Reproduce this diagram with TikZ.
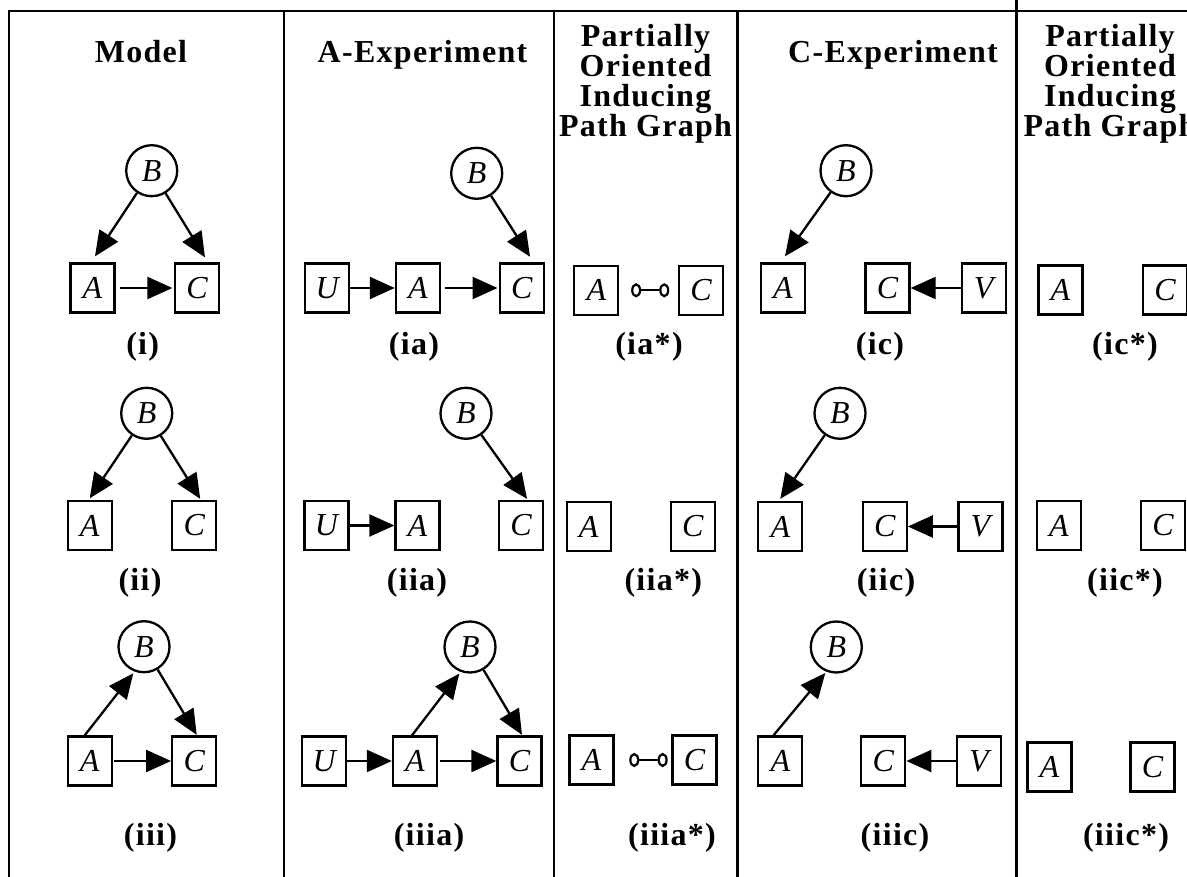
\documentclass[tikz,border=0pt]{standalone}
\usepackage{fontspec}
\setmainfont{Liberation Serif}
\newfontfamily\hdfont{Liberation Serif}[LetterSpace=4]
\usetikzlibrary{arrows.meta}
\tikzset{
  grid/.style={line width=2.6pt},
  box/.style={draw, line width=2.3pt, minimum width=44pt, minimum height=49pt, inner sep=0pt, font=\fontsize{32}{32}\selectfont\itshape},
  circ/.style={circle, draw, line width=2.3pt, minimum size=51pt, inner sep=0pt, font=\fontsize{32}{32}\selectfont\itshape},
  hd/.style={font=\hdfont\bfseries\fontsize{32}{30}\selectfont, align=center, anchor=base, inner sep=0pt},
  lab/.style={font=\hdfont\bfseries\fontsize{32}{30}\selectfont, anchor=base, inner sep=0pt},
  arr/.style={line width=2.3pt, -{Triangle[length=25pt,width=22pt]}},
  oo/.style={line width=2.2pt, {Ellipse[open,length=10pt,width=14pt]}-{Ellipse[open,length=10pt,width=14pt]}},
}
\begin{document}
\begin{tikzpicture}[x=1pt,y=-1pt]
\useasboundingbox (0,0) rectangle (1187,877);
% table frame
\draw[grid, line join=miter] (9,877) -- (9,11) -- (1195,11);
\draw[grid] (284,11) -- (284,877);
\draw[grid] (554,11) -- (554,877);
\draw[grid] (737.5,11) -- (737.5,877);
\draw[grid] (1016.5,0) -- (1016.5,877);
% headings
\node[hd] (h1) at (141,63) {Model};
\node[hd] (h2) at (422.5,63) {A-Experiment};
\node[hd] (h3) at (645.5,137) {Partially\\Oriented\\Inducing\\Path Graph};
\node[hd] (h4) at (893,63) {C-Experiment};
\node[hd] (h5) at (1110,137) {Partially\\Oriented\\Inducing\\Path Graph};
% ---------- Model ----------
\node[circ] (mB1) at (151.7,170.7) {B};
\node[box] (mA1) at (92.5,288) {A};
\node[box] (mC1) at (197,288) {C};
\draw[arr] (mB1) -- ([xshift=2.5pt,yshift=6pt]mA1.north);
\draw[arr] (mB1) -- ([xshift=8pt,yshift=5pt]mC1.north);
\draw[arr, shorten <=4pt, shorten >=1.5pt] (mA1) -- (mC1);
\node[circ] (mB2) at (146.7,413.3) {B};
\node[box] (mA2) at (89.7,525.5) {A};
\node[box] (mC2) at (194.2,525.5) {C};
\draw[arr] (mB2) -- ([yshift=1.5pt]mA2.north);
\draw[arr] (mB2) -- ([xshift=6pt,yshift=1pt]mC2.north);
\node[circ] (mB3) at (144,646.7) {B};
\node[box] (mA3) at (89.7,761) {A};
\node[box] (mC3) at (194.2,761) {C};
\draw[arr] ([xshift=-5pt]mA3.north) -- ([xshift=-10.7pt,yshift=-26.6pt]mB3.center);
\draw[arr] (mB3) -- ([xshift=2.5pt,yshift=0.5pt]mC3.north);
\draw[arr, shorten <=1.6pt] (mA3) -- (mC3);
% ---------- A-Experiment ----------
\node[circ] (aB1) at (476.7,173.3) {B};
\node[box] (aU1) at (327.2,288) {U};
\node[box] (aA1) at (417.9,288) {A};
\node[box] (aC1) at (521.7,288) {C};
\draw[arr] (aU1) -- (aA1);
\draw[arr, shorten <=4pt, shorten >=1pt] (aA1) -- (aC1);
\draw[arr] (aB1) -- ([xshift=8.3pt,yshift=5.6pt]aC1.north);
\node[circ] (aB2) at (466,413.3) {B};
\node[box] (aU2) at (326.5,525.5) {U};
\node[box] (aA2) at (417.5,525.5) {A};
\node[box] (aC2) at (521,525.5) {C};
\draw[arr] (aU2) -- (aA2);
\draw[arr] (aB2) -- ([xshift=6pt,yshift=1pt]aC2.north);
\node[circ] (aB3) at (470,647) {B};
\node[box] (aU3) at (324.3,761) {U};
\node[box] (aA3) at (415,761) {A};
\node[box] (aC3) at (519.5,761) {C};
\draw[arr] (aU3) -- (aA3);
\draw[arr, shorten <=1.6pt] (aA3) -- (aC3);
\draw[arr] ([xshift=-3pt]aA3.north) -- ([xshift=-10.7pt,yshift=-26.6pt]aB3.center);
\draw[arr] (aB3) -- ([xshift=2.5pt,yshift=0.5pt]aC3.north);
% ---------- POIPG (A) ----------
\node[box] (pA1) at (596.3,290.3) {A};
\node[box] (pC1) at (701,290.3) {C};
\draw[oo, shorten <=11.7pt, shorten >=8.6pt] (pA1) -- (pC1);
\node[box] (pA2) at (588.7,526.5) {A};
\node[box] (pC2) at (692.7,526.5) {C};
\node[box] (pA3) at (591.5,760) {A};
\node[box] (pC3) at (694.5,760) {C};
\draw[oo, shorten <=14.6pt, shorten >=3.7pt] (pA3) -- (pC3);
% ---------- C-Experiment ----------
\node[circ] (cB1) at (846,170.7) {B};
\node[box] (cA1) at (783,288) {A};
\node[box] (cC1) at (887.5,288) {C};
\node[box] (cV1) at (983.7,288) {V};
\draw[arr] (cB1) -- ([xshift=2pt,yshift=6pt]cA1.north);
\draw[arr] (cV1) -- (cC1);
\node[circ] (cB2) at (840,413.3) {B};
\node[box] (cA2) at (780.3,526.5) {A};
\node[box] (cC2) at (884.7,526.5) {C};
\node[box] (cV2) at (980.5,526.5) {V};
\draw[arr] (cB2) -- ([yshift=2pt]cA2.north);
\draw[arr] (cV2) -- (cC2);
\node[circ] (cB3) at (836.3,647) {B};
\node[box] (cA3) at (780.3,761) {A};
\node[box] (cC3) at (883.3,761) {C};
\node[box] (cV3) at (979,761) {V};
\draw[arr] ([xshift=-6.8pt]cA3.north) -- ([xshift=-11pt,yshift=-26pt]cB3.center);
\draw[arr] (cV3) -- (cC3);
% ---------- POIPG (C) ----------
\node[box] (qA1) at (1060.5,290) {A};
\node[box] (qC1) at (1165,290) {C};
\node[box] (qA2) at (1059,525.5) {A};
\node[box] (qC2) at (1163,525.5) {C};
\node[box] (qA3) at (1049.5,767) {A};
\node[box] (qC3) at (1152.5,767) {C};
% ---------- labels ----------
\node[lab] (l1) at (142.7,355) {(i)};
\node[lab] (l2) at (414,355) {(ia)};
\node[lab] (l3) at (649,355) {(ia*)};
\node[lab] (l4) at (880,355) {(ic)};
\node[lab] (l5) at (1125,355) {(ic*)};
\node[lab] (l6) at (140,590) {(ii)};
\node[lab] (l7) at (417,590) {(iia)};
\node[lab] (l8) at (663.3,590) {(iia*)};
\node[lab] (l9) at (886,590) {(iic)};
\node[lab] (l10) at (1125,590) {(iic*)};
\node[lab] (l11) at (150.5,845) {(iii)};
\node[lab] (l12) at (429,845) {(iiia)};
\node[lab] (l13) at (672,845) {(iiia*)};
\node[lab] (l14) at (895,845) {(iiic)};
\node[lab] (l15) at (1126,845) {(iiic*)};
\end{tikzpicture}
\end{document}
